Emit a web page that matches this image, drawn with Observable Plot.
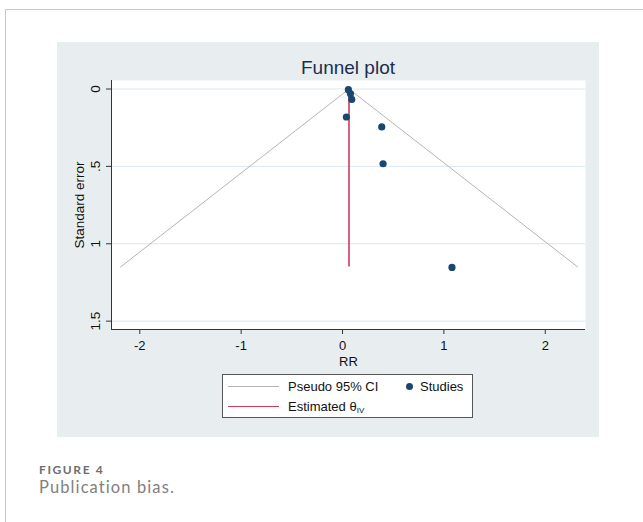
<!DOCTYPE html>
<html>
<head>
<meta charset="utf-8">
<script src="https://cdn.jsdelivr.net/npm/d3@7"></script>
<script src="https://cdn.jsdelivr.net/npm/@observablehq/plot@0.6"></script>
<style>
  html, body { margin: 0; padding: 0; background: #fff; }
  #page { position: relative; width: 643px; height: 522px; overflow: hidden; font-family: "Liberation Sans", Arial, sans-serif; }
  .bt { position: absolute; left: 5px; top: 9px; width: 640px; height: 1px; background: #c8c8c8; }
  .bl { position: absolute; left: 5px; top: 9px; width: 1px; height: 520px; background: #c8c8c8; }
  #panel { position: absolute; left: 57px; top: 42px; width: 542px; height: 395px; background: #e8eef0; }
  #chart { position: absolute; left: 0; top: 0; }
  #title { position: absolute; left: 0; width: 582px; top: 16px; text-align: center; font-size: 19px; line-height: 19px; color: #1c2d4e; }
  #legend { position: absolute; left: 165px; top: 332px; width: 249px; height: 42px; background: #fff; border: 1px solid #555; font-size: 13px; color: #111; }
  .li { position: absolute; white-space: nowrap; line-height: 14px; }
  .sw { position: absolute; height: 0; }
  #cap1 { position: absolute; left: 39px; top: 464.4px; font-family: Lato, sans-serif; font-weight: 700; font-size: 12px; line-height: 12px; color: #6e6e6e; letter-spacing: 1.6px; white-space: nowrap; }
  #cap2 { position: absolute; left: 39px; top: 479.4px; font-family: Lato, sans-serif; font-size: 16.5px; line-height: 16.5px; color: #808080; letter-spacing: 1.1px; white-space: nowrap; }
</style>
</head>
<body>
<div id="page">
  <div class="bt"></div><div class="bl"></div>
  <div id="panel">
    <div id="chart"></div>
    <div id="title">Funnel plot</div>
    <div id="legend"></div>
  </div>
  <div id="cap1">FIGURE 4</div>
  <div id="cap2">Publication bias.</div>
</div>
<script>
// Study estimates (RR, as plotted) and their standard errors
const studyRR = [0.058, 0.078, 0.091, 0.038, 0.387, 0.400, 1.080];
const studySE = [0.004, 0.030, 0.067, 0.181, 0.245, 0.483, 1.153];
// Pseudo 95% CI funnel (left end, apex, right end)
const funnelX = [-2.19, 0.064, 2.32];
const funnelY = [1.15, 0, 1.15];
// Estimated theta (IV) line
const thetaIV = 0.064;
const thetaSEMax = 1.15;
// Axes
const xTicks = [-2, -1, 0, 1, 2];
const yTicks = [0, 0.5, 1, 1.5];
const yTickLabels = ["0", ".5", "1", "1.5"];
const xDomain = [-2.279, 2.397];
const yDomain = [-0.055, 1.554];

const studies = studyRR.map((x, i) => ({x, se: studySE[i]}));
const funnel = funnelX.map((x, i) => ({x, y: funnelY[i]}));

const chart = Plot.plot({
  width: 542,
  height: 395,
  marginLeft: 54,
  marginRight: 14,
  marginTop: 38,
  marginBottom: 108,
  style: {background: "transparent", fontFamily: "Liberation Sans, Arial, sans-serif", fontSize: "13px", color: "#111"},
  x: {domain: xDomain},
  y: {domain: yDomain, reverse: true},
  marks: [
    Plot.frame({fill: "white", stroke: null}),
    Plot.gridY(yTicks, {stroke: "#dbe8ed", strokeOpacity: 1}),
    Plot.line(funnel, {x: "x", y: "y", stroke: "#b4b4b4", strokeWidth: 1}),
    Plot.ruleX([thetaIV], {y1: 0, y2: thetaSEMax, stroke: "#d23a5a", strokeWidth: 1.6}),
    Plot.dot(studies, {x: "x", y: "se", r: 3.6, fill: "#1a476f", stroke: null}),
    Plot.ruleX([xDomain[0]], {stroke: "#333", strokeWidth: 1}),
    Plot.ruleY([yDomain[1]], {stroke: "#333", strokeWidth: 1}),
    Plot.axisY({ticks: yTicks, tickFormat: (d) => yTickLabels[yTicks.indexOf(d)], tickRotate: -90, tickSize: 5, tickPadding: 7, stroke: "#333",
      label: "Standard error", labelAnchor: "center", labelArrow: "none", labelOffset: 37, fontSize: 13.5}),
    Plot.axisX({ticks: xTicks, tickFormat: (d) => String(d), tickSize: 5, tickPadding: 6, stroke: "#333",
      label: "RR", labelAnchor: "center", labelArrow: "none", labelOffset: 36})
  ]
});
document.getElementById("chart").appendChild(chart);

// Legend
const legendItems = [
  {type: "line", color: "#b4b4b4", label: "Pseudo 95% CI", sx: 5, tx: 65, y: 11},
  {type: "dot", color: "#1a476f", label: "Studies", sx: 186, tx: 197, y: 11},
  {type: "line", color: "#d23a5a", label: "Estimated θ<sub style='font-size:8px;vertical-align:-2px'>IV</sub>", sx: 5, tx: 65, y: 31}
];
const lg = document.getElementById("legend");
for (const it of legendItems) {
  if (it.type === "line") {
    const s = document.createElement("div");
    s.className = "sw";
    s.style.cssText = `left:${it.sx}px;top:${it.y}px;width:51px;border-top:${it.color === "#d23a5a" ? 1.6 : 1}px solid ${it.color};`;
    lg.appendChild(s);
  } else {
    const s = document.createElement("div");
    s.style.cssText = `position:absolute;left:${it.sx - 3.5}px;top:${it.y - 3.5}px;width:7px;height:7px;border-radius:50%;background:${it.color};`;
    lg.appendChild(s);
  }
  const t = document.createElement("div");
  t.className = "li";
  t.style.left = it.tx + "px";
  t.style.top = (it.y - 6) + "px";
  t.innerHTML = it.label;
  lg.appendChild(t);
}
</script>
</body>
</html>
